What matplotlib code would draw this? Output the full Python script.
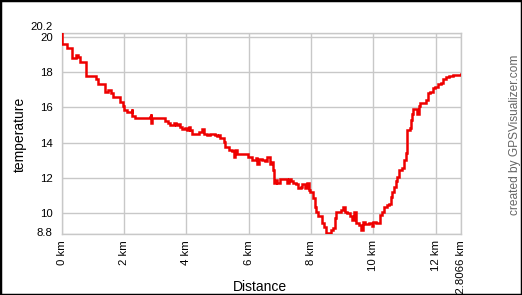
import matplotlib
matplotlib.use("Agg")
import matplotlib.pyplot as plt
from matplotlib.patches import Rectangle
from matplotlib.transforms import ScaledTranslation

plt.rcParams["font.family"] = ["Liberation Sans", "DejaVu Sans"]

# distance (km) / temperature trace
distance = [
    0.00, 0.00, 0.02, 0.18, 0.32, 0.33, 0.45, 0.51, 0.59, 0.77, 0.78, 0.86,
    0.93, 1.05, 1.09, 1.18, 1.37, 1.39, 1.50, 1.59, 1.66, 1.82, 1.87, 1.98,
    2.01, 2.09, 2.25, 2.27, 2.36, 2.68, 2.84, 2.86, 2.87, 2.90, 3.27, 3.32,
    3.41, 3.48, 3.59, 3.67, 3.74, 3.80, 3.86, 3.94, 4.02, 4.07, 4.13, 4.19,
    4.29, 4.39, 4.50, 4.55, 4.66, 4.77, 4.93, 4.98, 5.04, 5.09, 5.20, 5.25,
    5.36, 5.47, 5.52, 5.57, 5.63, 5.79, 5.95, 5.98, 6.05, 6.11, 6.22, 6.27,
    6.34, 6.43, 6.51, 6.59, 6.67, 6.73, 6.77, 6.80, 6.86, 6.91, 6.99, 7.07,
    7.18, 7.23, 7.29, 7.37, 7.41, 7.50, 7.59, 7.66, 7.72, 7.80, 7.88, 7.93,
    7.98, 8.06, 8.11, 8.17, 8.23, 8.34, 8.41, 8.49, 8.57, 8.63, 8.70, 8.76,
    8.79, 8.89, 8.95, 9.02, 9.09, 9.16, 9.24, 9.32, 9.38, 9.43, 9.54, 9.59,
    9.65, 9.73, 9.86, 9.95, 9.99, 10.07, 10.16, 10.20, 10.27, 10.34, 10.42,
    10.50, 10.56, 10.61, 10.66, 10.72, 10.77, 10.82, 10.93, 10.98, 11.04,
    11.06, 11.09, 11.17, 11.20, 11.25, 11.27, 11.34, 11.38, 11.45, 11.49,
    11.58, 11.68, 11.74, 11.81, 11.90, 11.98, 12.06, 12.16, 12.24, 12.32,
    12.43, 12.54, 12.75, 12.8066,
]
temperature = [
    20.2, 19.9, 19.6, 19.4, 19.4, 18.8, 19.0, 18.85, 18.6, 18.6, 17.8, 17.8,
    17.8, 17.8, 17.6, 17.35, 17.35, 16.85, 17.0, 16.8, 16.6, 16.6, 16.3, 16.1,
    15.85, 15.75, 15.9, 15.5, 15.4, 15.4, 15.45, 15.65, 15.1, 15.4, 15.4, 15.25,
    15.1, 15.0, 15.1, 15.0, 15.05, 14.9, 14.75, 14.85, 14.7, 14.9, 14.7, 14.5,
    14.5, 14.6, 14.75, 14.5, 14.4, 14.5, 14.45, 14.35, 14.45, 14.25, 14.05, 13.75,
    13.6, 13.5, 13.2, 13.6, 13.35, 13.35, 13.35, 13.15, 13.2, 13.0, 13.1, 12.8,
    13.05, 13.0, 12.95, 13.15, 12.8, 12.9, 12.45, 11.7, 11.85, 11.7, 11.9, 11.95,
    11.9, 11.7, 11.9, 11.8, 11.7, 11.65, 11.4, 11.45, 11.65, 11.4, 11.7, 11.3,
    11.2, 10.85, 10.35, 10.05, 9.8, 9.4, 9.2, 8.85, 8.85, 9.05, 9.15, 9.7,
    10.05, 10.05, 10.15, 10.35, 10.05, 10.0, 9.8, 9.6, 10.05, 9.4, 9.3, 9.05,
    9.5, 9.35, 9.4, 9.25, 9.5, 9.4, 9.45, 9.9, 10.05, 10.35, 10.45,
    10.5, 10.9, 11.2, 11.5, 11.8, 12.05, 12.45, 12.55, 13.0, 13.4,
    14.35, 14.7, 14.8, 15.3, 15.65, 15.9, 15.9, 15.65, 16.05, 16.25,
    16.25, 16.4, 16.8, 16.9, 17.1, 17.15, 17.35, 17.4, 17.6, 17.7,
    17.8, 17.85, 17.85, 17.9,
]

x_ticks = [0, 2, 4, 6, 8, 10, 12, 12.8066]
x_labels = ["0 km", "2 km", "4 km", "6 km", "8 km", "10 km", "12 km", "12.8066 km"]
y_ticks = [8.8, 10, 12, 14, 16, 18, 20, 20.2]
y_labels = ["8.8", "10", "12", "14", "16", "18", "20", "20.2"]

grid_c = "#c8c8c8"

fig = plt.figure(figsize=(5.22, 2.95), dpi=100)
ax = fig.add_axes([0.1182, 0.2068, 0.7649, 0.6797])

ax.plot(distance, temperature, color="#ee0000", lw=1.8, drawstyle="steps-post",
        solid_joinstyle="miter", zorder=3)

ax.set_xlim(0, 12.8066)
ax.set_ylim(8.8, 20.2)
ax.set_xticks(x_ticks)
ax.set_xticklabels(x_labels, rotation=90, va="top", ha="center")
ax.set_yticks(y_ticks)
ax.set_yticklabels(y_labels)
ax.tick_params(axis="both", length=0, labelsize=8.2, colors="black")
ax.tick_params(axis="x", pad=4.5)
ax.tick_params(axis="y", pad=6.5)
ax.grid(True, color=grid_c, lw=1.0)
ax.set_axisbelow(True)
for s in ax.spines.values():
    s.set_color(grid_c)
    s.set_linewidth(1.0)

# lift the top label (20.2) clear of "20", nudge 8.8 up a bit
ylbls = ax.get_yticklabels()
ylbls[-1].set_transform(ylbls[-1].get_transform()
                        + ScaledTranslation(0, 0.07, fig.dpi_scale_trans))
ylbls[0].set_transform(ylbls[0].get_transform()
                       + ScaledTranslation(0, 0.015, fig.dpi_scale_trans))

fig.text(0.0383, 0.546, "temperature", rotation=90, ha="center", va="center",
         fontsize=10)
fig.text(0.4975, 0.028, "Distance", ha="center", va="center", fontsize=10)
fig.text(0.9866, 0.542, "created by GPSVisualizer.com", rotation=90,
         ha="center", va="center", fontsize=8.6, color="#666666")

fig.patches.append(Rectangle((0, 0), 1, 1, transform=fig.transFigure,
                             fill=False, edgecolor="black", lw=2.5))

fig.savefig("out.png", dpi=100)
